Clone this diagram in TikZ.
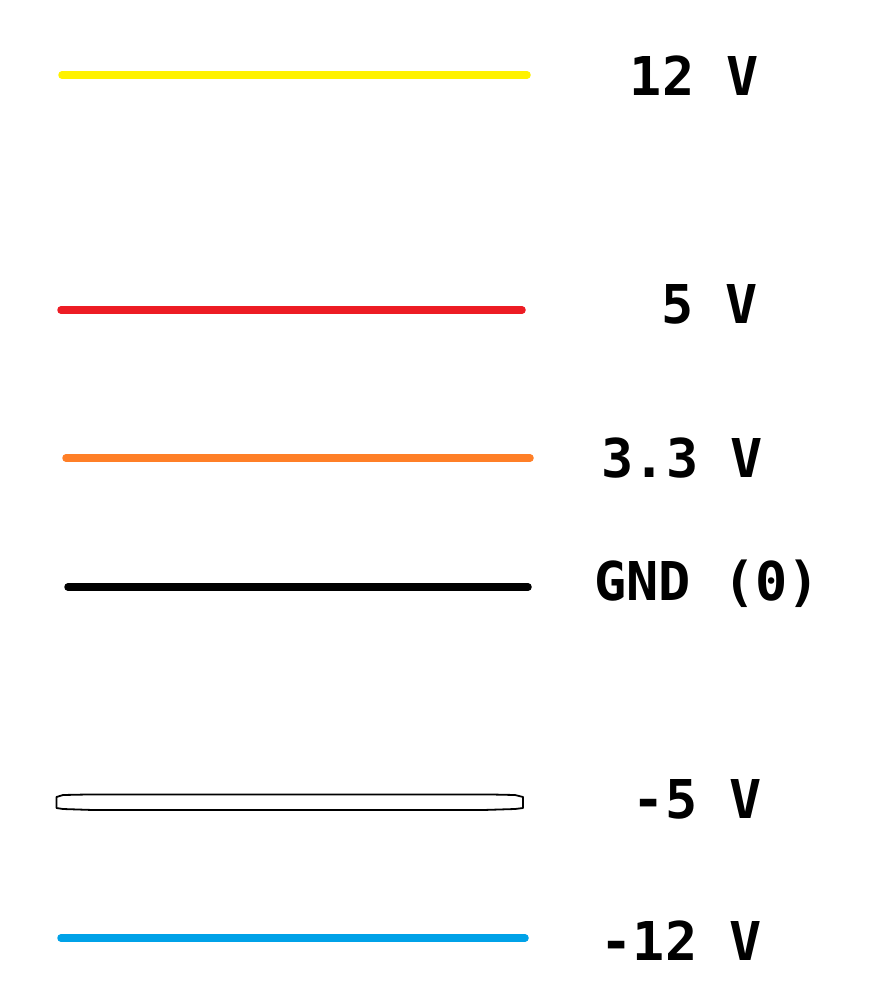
\documentclass[tikz,border=0pt]{standalone}
\usepackage{fontspec}
\newfontfamily\labfont{DejaVu Sans Mono}
\definecolor{wyellow}{HTML}{FFF200}
\definecolor{wred}{HTML}{ED1C24}
\definecolor{worange}{HTML}{FF7F27}
\definecolor{wblue}{HTML}{00A2E8}
\tikzset{
  wire/.style={line width=7.5pt, line cap=round},
  lab/.style={inner sep=0pt, font=\labfont\bfseries\fontsize{53.5}{53.5}\selectfont, anchor=base east},
}
\begin{document}
\begin{tikzpicture}[x=1pt,y=-1pt]
\useasboundingbox[fill=white] (0,0) rectangle (888,1008);
\draw[wire, wyellow] (62,75) -- (527,75);
\draw[wire, wred] (61,310) -- (522,310);
\draw[wire, worange] (66,458) -- (530,458);
\draw[wire, black] (68,587) -- (528,587);
\draw[line width=1.8pt, fill=white, line join=round]
  (56.5,797) -- (63,795) -- (87,794.5) -- (492,794.5) -- (515,795) -- (523,797)
  -- (523,808) -- (515,809) -- (483,810) -- (93,810) -- (63,809) -- (56.5,808) -- cycle;
\draw[wire, wblue] (61,938) -- (525,938);
\node[lab] (v12) at (759,96) {12 V};
\node[lab] (v5) at (758,323) {5 V};
\node[lab] (v33) at (763,477) {3.3 V};
\node[lab, anchor=base west] (gnd) at (594,600) {GND (0)};
\node[lab] (vm5) at (762,818) {-5 V};
\node[lab] (vm12) at (762,960) {-12 V};
\end{tikzpicture}
\end{document}
